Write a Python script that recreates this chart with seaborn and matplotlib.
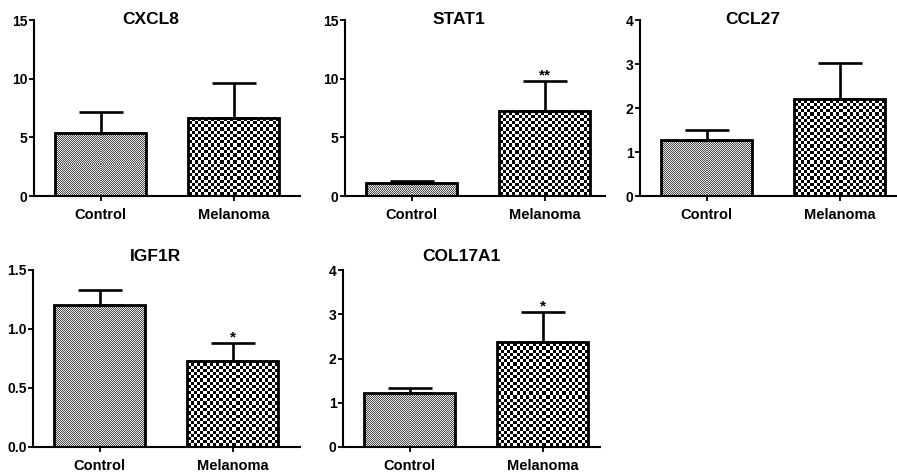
import numpy as np
import pandas as pd
import matplotlib
matplotlib.use("Agg")
import matplotlib.pyplot as plt
from matplotlib.colors import ListedColormap
import seaborn as sns

# ---------------- data ----------------
groups = ["Control", "Melanoma"]
genes = ["CXCL8", "STAT1", "CCL27", "IGF1R", "COL17A1"]
cxcl8_mean = [5.4, 6.65]
cxcl8_sem = [1.75, 2.95]
stat1_mean = [1.15, 7.25]
stat1_sem = [0.1, 2.55]
ccl27_mean = [1.27, 2.2]
ccl27_sem = [0.22, 0.82]
igf1r_mean = [1.2, 0.73]
igf1r_sem = [0.13, 0.15]
col17a1_mean = [1.22, 2.38]
col17a1_sem = [0.12, 0.66]
stars = {"CXCL8": "", "STAT1": "**", "CCL27": "", "IGF1R": "*", "COL17A1": "*"}
yticks = {
    "CXCL8": [0, 5, 10, 15],
    "STAT1": [0, 5, 10, 15],
    "CCL27": [0, 1, 2, 3, 4],
    "IGF1R": [0.0, 0.5, 1.0, 1.5],
    "COL17A1": [0, 1, 2, 3, 4],
}
means = {"CXCL8": cxcl8_mean, "STAT1": stat1_mean, "CCL27": ccl27_mean,
         "IGF1R": igf1r_mean, "COL17A1": col17a1_mean}
sems = {"CXCL8": cxcl8_sem, "STAT1": stat1_sem, "CCL27": ccl27_sem,
        "IGF1R": igf1r_sem, "COL17A1": col17a1_sem}

# ---------------- style ----------------
sns.set_theme(style="ticks")
plt.rcParams["font.family"] = ["Liberation Sans", "DejaVu Sans"]
plt.rcParams["font.weight"] = "bold"
plt.rcParams["text.color"] = "black"
plt.rcParams["xtick.color"] = "black"
plt.rcParams["ytick.color"] = "black"

W, H = 897, 472
fig = plt.figure(figsize=(W / 100, H / 100), dpi=100)

# pixel boxes: left, right, top, bottom
boxes = {
    "CXCL8": (34, 300, 20, 196),
    "STAT1": (345, 605, 20, 196),
    "CCL27": (640, 897, 20, 196),
    "IGF1R": (33, 300, 269.5, 447),
    "COL17A1": (343, 600, 270, 447),
}
unit_px = 133.0
bar_w = 0.68


def checker(ax, patch, sq, c0, c1):
    x0, y0 = patch.get_x(), patch.get_y()
    w, h = patch.get_width(), patch.get_height()
    (px0, py0), (px1, py1) = ax.transData.transform([(x0, y0), (x0 + w, y0 + h)])
    nw = max(int(round(px1 - px0)), 1)
    nh = max(int(round(py1 - py0)), 1)
    ii, jj = np.indices((nh, nw))
    arr = ((np.floor(ii / sq) + np.floor(jj / sq)) % 2).astype(float)
    ax.imshow(arr, extent=(x0, x0 + w, y0, y0 + h), origin="lower",
              cmap=ListedColormap([c0, c1]), vmin=0, vmax=1,
              interpolation="nearest", aspect="auto", zorder=1.5)
    patch.set_facecolor("none")
    patch.set_zorder(2)


for g in genes:
    l, r, t, b = boxes[g]
    ax = fig.add_axes([l / W, 1 - b / H, (r - l) / W, (b - t) / H])
    df = pd.DataFrame({"group": groups, "value": means[g]})
    sns.barplot(data=df, x="group", y="value", ax=ax, width=bar_w,
                color="white", edgecolor="black", linewidth=2.0,
                errorbar=None)
    xmax = -0.5 + (r - l) / unit_px
    ylim = (yticks[g][0], yticks[g][-1])
    ax.set_xlim(-0.5, xmax)
    ax.set_ylim(*ylim)
    ax.errorbar(x=[0, 1], y=means[g], yerr=[np.zeros(2), sems[g]], fmt="none",
                ecolor="black", elinewidth=1.9, capsize=16, capthick=1.9,
                zorder=3)
    pats = list(ax.patches)
    checker(ax, pats[0], 1.0, "#505050", "#e4e4e4")
    checker(ax, pats[1], 3.2, "#000000", "#ffffff")
    ax.set_xlim(-0.5, xmax)
    ax.set_ylim(*ylim)

    if stars[g]:
        top = means[g][1] + sems[g][1]
        ax.annotate(stars[g], xy=(1, top), xytext=(0, -1), textcoords="offset points",
                    ha="center", va="bottom", fontsize=11, fontweight="bold",
                    color="black")

    ax.set_yticks(yticks[g])
    if g == "IGF1R":
        ax.set_yticklabels([f"{v:.1f}" for v in yticks[g]])
    else:
        ax.set_yticklabels([str(v) for v in yticks[g]])
    ax.set_xlabel("")
    ax.set_ylabel("")
    sns.despine(ax=ax)
    for s in ("left", "bottom"):
        ax.spines[s].set_linewidth(1.5)
        ax.spines[s].set_color("black")
    ax.tick_params(axis="y", length=3.6, width=1.3, pad=1, labelsize=10,
                   colors="black")
    ax.tick_params(axis="x", length=3.6, width=1.3, pad=5, labelsize=10.5,
                   colors="black")
    for lab in ax.get_xticklabels() + ax.get_yticklabels():
        lab.set_fontweight("bold")
        lab.set_color("black")
    ax.patch.set_alpha(0)

    # title
    tx = l + 0.44 * (r - l) if t < 100 else l + 0.46 * (r - l)
    ty = 20 if t < 100 else 256.5
    fig.text(tx / W, 1 - ty / H, g, ha="center", va="center", fontsize=12.5,
             fontweight="bold", color="black")

fig.savefig("out.png", dpi=100)
